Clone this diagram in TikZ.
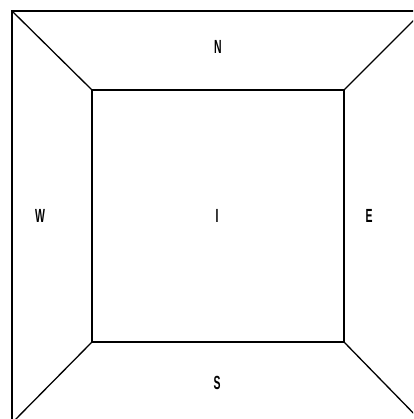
\documentclass[tikz,border=0pt]{standalone}
\usepackage{fontspec}
\setmainfont{Liberation Sans}
\usetikzlibrary{positioning}

\begin{document}
\begin{tikzpicture}[x=1pt,y=-1pt,line width=1.3pt,
    lbl/.style={font=\fontsize{19}{19}\selectfont\bfseries,xscale=0.55,inner sep=0pt}]
    \useasboundingbox (0,0) rectangle (413,419);
    \clip (0,0) rectangle (413,419);
    % outer frame corners
    \coordinate (A) at (12,11);
    \coordinate (B) at (423,11);
    \coordinate (C) at (423,423);
    \coordinate (D) at (12,423);
    % inner room corners
    \coordinate (a) at (92,90);
    \coordinate (b) at (344,90);
    \coordinate (c) at (344,342);
    \coordinate (d) at (92,342);
    \draw [line width=2.6pt] (A) -- (B) -- (C) -- (D) -- cycle;
    \draw (a) -- (b) -- (c) -- (d) -- cycle;
    \draw (A) -- (a);
    \draw (B) -- (b);
    \draw (C) -- (c);
    \draw (D) -- (d);
    \node [lbl] (N) at (218,47) {N};
    \node [lbl] (W) at (40,216) {W};
    \node [lbl] (I) at (217,216) {I};
    \node [lbl] (E) at (369,216) {E};
    \node [lbl] (S) at (217,383) {S};
\end{tikzpicture}
\end{document}
